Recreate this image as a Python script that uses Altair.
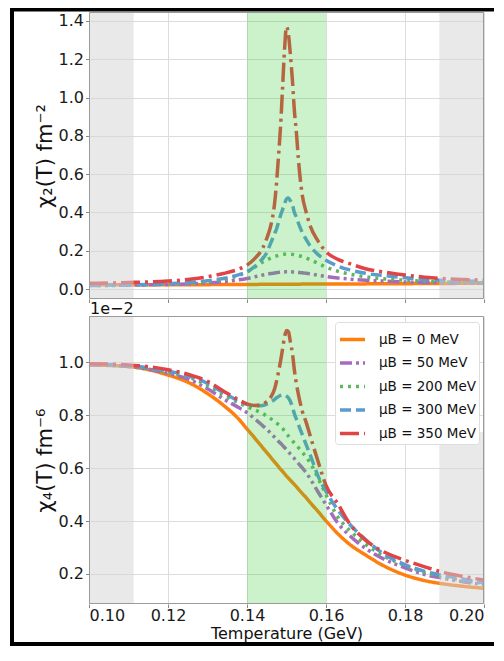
import altair as alt
import pandas as pd

# ---------------- data ----------------
T = [0.100, 0.110, 0.120, 0.125, 0.130, 0.134, 0.138, 0.140, 0.142, 0.144,
     0.145, 0.146, 0.147, 0.1475, 0.148, 0.1485, 0.149, 0.1495, 0.150, 0.1505,
     0.151, 0.1515, 0.152, 0.1525, 0.153, 0.154, 0.155, 0.156, 0.158, 0.160,
     0.163, 0.166, 0.170, 0.175, 0.180, 0.185, 0.190, 0.195, 0.200]

labels = ["μB = 0 MeV", "μB = 50 MeV", "μB = 200 MeV", "μB = 300 MeV", "μB = 350 MeV"]

# chi_2 (fm^-2)
chi2_0 = [0.022, 0.022, 0.023, 0.023, 0.023, 0.024, 0.024, 0.024, 0.024, 0.025,
          0.025, 0.025, 0.025, 0.025, 0.025, 0.025, 0.025, 0.025, 0.025, 0.025,
          0.025, 0.025, 0.025, 0.025, 0.025, 0.026, 0.026, 0.026, 0.026, 0.026,
          0.026, 0.027, 0.027, 0.028, 0.028, 0.029, 0.029, 0.030, 0.030]
chi2_50 = [0.018, 0.020, 0.024, 0.027, 0.032, 0.038, 0.048, 0.055, 0.064, 0.073,
           0.077, 0.081, 0.084, 0.0855, 0.087, 0.088, 0.089, 0.0895, 0.090, 0.090,
           0.090, 0.0895, 0.089, 0.088, 0.087, 0.085, 0.082, 0.079, 0.072, 0.066,
           0.058, 0.052, 0.046, 0.041, 0.037, 0.034, 0.032, 0.031, 0.030]
chi2_200 = [0.018, 0.021, 0.026, 0.030, 0.038, 0.050, 0.072, 0.090, 0.115, 0.142,
            0.153, 0.162, 0.170, 0.173, 0.176, 0.179, 0.181, 0.182, 0.183, 0.183,
            0.182, 0.181, 0.179, 0.177, 0.175, 0.169, 0.162, 0.153, 0.134, 0.115,
            0.093, 0.078, 0.064, 0.053, 0.046, 0.041, 0.037, 0.035, 0.033]
chi2_300 = [0.020, 0.022, 0.028, 0.033, 0.043, 0.055, 0.075, 0.090, 0.118, 0.160,
            0.190, 0.240, 0.290, 0.315, 0.350, 0.385, 0.415, 0.445, 0.470, 0.475,
            0.460, 0.440, 0.400, 0.375, 0.345, 0.295, 0.258, 0.225, 0.180, 0.150,
            0.120, 0.100, 0.082, 0.070, 0.059, 0.050, 0.045, 0.042, 0.040]
chi2_350 = [0.030, 0.034, 0.042, 0.050, 0.064, 0.081, 0.105, 0.125, 0.160, 0.215,
            0.265, 0.330, 0.450, 0.560, 0.700, 0.850, 1.050, 1.250, 1.370, 1.330,
            1.220, 1.090, 0.930, 0.820, 0.680, 0.490, 0.400, 0.330, 0.250, 0.195,
            0.155, 0.133, 0.106, 0.088, 0.073, 0.062, 0.054, 0.050, 0.047]

# chi_4 (in units of 1e-2 fm^-6)
chi4_0 = [0.990, 0.984, 0.952, 0.925, 0.882, 0.838, 0.784, 0.748, 0.713, 0.677,
          0.659, 0.641, 0.623, 0.614, 0.605, 0.596, 0.588, 0.579, 0.570, 0.562,
          0.554, 0.546, 0.538, 0.530, 0.521, 0.504, 0.488, 0.470, 0.436, 0.401,
          0.352, 0.312, 0.272, 0.228, 0.196, 0.175, 0.162, 0.153, 0.146]
chi4_50 = [0.991, 0.984, 0.958, 0.937, 0.900, 0.862, 0.828, 0.810, 0.786, 0.760,
           0.747, 0.732, 0.717, 0.709, 0.701, 0.694, 0.686, 0.678, 0.670, 0.661,
           0.653, 0.644, 0.636, 0.627, 0.618, 0.601, 0.583, 0.560, 0.510, 0.462,
           0.392, 0.345, 0.297, 0.254, 0.223, 0.198, 0.183, 0.170, 0.160]
chi4_200 = [0.992, 0.985, 0.962, 0.945, 0.912, 0.877, 0.846, 0.832, 0.820, 0.806,
            0.797, 0.787, 0.776, 0.770, 0.764, 0.757, 0.750, 0.740, 0.730, 0.721,
            0.712, 0.703, 0.695, 0.687, 0.678, 0.660, 0.642, 0.620, 0.562, 0.500,
            0.415, 0.365, 0.312, 0.265, 0.232, 0.205, 0.188, 0.175, 0.165]
chi4_300 = [0.993, 0.987, 0.967, 0.950, 0.920, 0.885, 0.853, 0.841, 0.835, 0.837,
            0.842, 0.850, 0.860, 0.866, 0.871, 0.875, 0.877, 0.876, 0.872, 0.865,
            0.852, 0.830, 0.805, 0.785, 0.765, 0.727, 0.688, 0.650, 0.570, 0.512,
            0.442, 0.388, 0.330, 0.272, 0.235, 0.210, 0.194, 0.180, 0.167]
chi4_350 = [0.995, 0.990, 0.972, 0.955, 0.928, 0.892, 0.857, 0.843, 0.837, 0.842,
            0.852, 0.868, 0.900, 0.930, 0.965, 1.005, 1.050, 1.095, 1.120, 1.115,
            1.075, 1.035, 0.970, 0.920, 0.880, 0.815, 0.772, 0.722, 0.625, 0.535,
            0.465, 0.390, 0.328, 0.281, 0.252, 0.227, 0.205, 0.190, 0.177]

chi2_series = [chi2_0, chi2_50, chi2_200, chi2_300, chi2_350]
chi4_series = [chi4_0, chi4_50, chi4_200, chi4_300, chi4_350]

colors = ["#ff7f0e", "#a66bbe", "#5cb85c", "#5b9bd0", "#e04444"]
dashes = [[1, 0], [12, 4, 3, 4, 3, 4], [3, 5], [11, 5], [19, 5, 3, 5]]

gray_lo = [0.100, 0.1887]
gray_hi = [0.1113, 0.200]
green_lo = [0.140]
green_hi = [0.160]
gray_top_bottom_panel = [0.737]   # right grey band in lower panel stops here

x_ticks = [0.10, 0.12, 0.14, 0.16, 0.18, 0.20]
y1_ticks = [0.0, 0.2, 0.4, 0.6, 0.8, 1.0, 1.2, 1.4]
y2_ticks = [0.2, 0.4, 0.6, 0.8, 1.0]

rows = []
for lab, s2, s4 in zip(labels, chi2_series, chi4_series):
    for t, a, b in zip(T, s2, s4):
        rows.append({"T": t, "chi2": a, "chi4": b, "series": lab})
df = pd.DataFrame(rows)

gray_df = pd.DataFrame({"lo": gray_lo, "hi": gray_hi})
green_df = pd.DataFrame({"lo": green_lo, "hi": green_hi})
gray_b_df = pd.DataFrame({"lo": gray_lo[:1], "hi": gray_hi[:1]})
gray_b2_df = pd.DataFrame({"lo": gray_lo[1:], "hi": gray_hi[1:], "top": gray_top_bottom_panel})

# ---------------- layout ----------------
W, H1, H2 = 395, 287, 288
xsc = alt.Scale(domain=[0.10, 0.20], nice=False, zero=False)
y1sc = alt.Scale(domain=[-0.052, 1.447], nice=False, zero=False)
y2sc = alt.Scale(domain=[0.0866, 1.175], nice=False, zero=False)
colsc = alt.Scale(domain=labels, range=colors)
dashsc = alt.Scale(domain=labels, range=dashes)

x_axis_top = alt.Axis(values=x_ticks, labels=False, title=None, grid=True)
x_axis_bot = alt.Axis(values=x_ticks, format=".2f", title="Temperature (GeV)", grid=True)
y1_axis = alt.Axis(values=y1_ticks, format=".1f", title="χ₂(T) fm⁻²", grid=True)
y2_axis = alt.Axis(values=y2_ticks, format=".1f", title="χ₄(T) fm⁻⁶", grid=True)

legend = alt.Legend(
    title=None, orient="none", legendX=246, legendY=6,
    symbolType="stroke", symbolSize=625, symbolStrokeWidth=3.5,
    labelFontSize=13.5, labelFont="DejaVu Sans", labelColor="#111111",
    rowPadding=1.5, labelOffset=12, padding=3,
    fillColor="white", strokeColor="#dddddd", cornerRadius=3,
)


def line_layers(field, ysc, xaxis, yaxis, leg):
    out = []
    for lab in labels:
        out.append(
            alt.Chart(df).transform_filter(alt.datum.series == lab)
            .mark_line(strokeWidth=3.5, interpolate="monotone", clip=True)
            .encode(
                x=alt.X("T:Q", scale=xsc, axis=xaxis),
                y=alt.Y(f"{field}:Q", scale=ysc, axis=yaxis),
                color=alt.Color("series:N", scale=colsc, legend=leg),
                strokeDash=alt.StrokeDash("series:N", scale=dashsc, legend=leg),
            )
        )
    return out


def band(data, fill, opacity, xaxis, height):
    return alt.Chart(data).mark_rect(fill=fill, opacity=opacity).encode(
        x=alt.X("lo:Q", scale=xsc, axis=xaxis), x2="hi:Q",
        y=alt.value(0), y2=alt.value(height),
    )


one = pd.DataFrame({"k": [0]})


def panel_box(height):
    return alt.Chart(one).mark_rect(filled=False, stroke="#9a9a9a", strokeWidth=1, clip=False).encode(
        x=alt.value(0.5), x2=alt.value(W - 0.5), y=alt.value(0.5), y2=alt.value(height - 0.5))


def frame_piece(x0, x1, y0, y1):
    # solid black strip of the outer picture frame (decoration, not data)
    return alt.Chart(one).mark_rect(fill="black", strokeWidth=0, clip=False).encode(
        x=alt.value(x0), x2=alt.value(x1), y=alt.value(y0), y2=alt.value(y1))


frame_top = frame_piece(-79, 405, -4, -0.5)
frame_left = frame_piece(-79, -75, -4, 634)
frame_bottom = frame_piece(-79, 405, 630, 634)

top = alt.layer(
    *line_layers("chi2", y1sc, x_axis_top, y1_axis, None),
    band(gray_df, "#d3d3d3", 0.5, x_axis_top, H1),
    band(green_df, "#32cd32", 0.25, x_axis_top, H1),
    panel_box(H1),
    frame_top, frame_left, frame_bottom,
).properties(width=W, height=H1)

offset_text = alt.Chart(pd.DataFrame({"t": ["1e−2"]})).mark_text(
    align="left", baseline="alphabetic", fontSize=16, font="DejaVu Sans", color="#111111", clip=False
).encode(text="t:N", x=alt.value(1), y=alt.value(-2))

gray_b2 = alt.Chart(gray_b2_df).mark_rect(fill="#d3d3d3", opacity=0.5).encode(
    x=alt.X("lo:Q", scale=xsc, axis=x_axis_bot), x2="hi:Q",
    y=alt.Y("top:Q", scale=y2sc, axis=y2_axis), y2=alt.value(H2),
)

bottom = alt.layer(
    *line_layers("chi4", y2sc, x_axis_bot, y2_axis, legend),
    band(gray_b_df, "#d3d3d3", 0.5, x_axis_bot, H2),
    gray_b2,
    band(green_df, "#32cd32", 0.25, x_axis_bot, H2),
    panel_box(H2),
    offset_text,
).properties(width=W, height=H2)

chart = alt.vconcat(top, bottom, spacing=17, bounds="flush").resolve_scale(
    color="independent", strokeDash="independent"
).properties(
    padding={"left": 2, "top": 0, "right": 0, "bottom": 0},
    background="white",
).configure_view(
    stroke="transparent", strokeWidth=0
).configure_axis(
    domain=False,
    labelFont="DejaVu Sans", labelFontSize=16, labelColor="#1a1a1a",
    titleFont="DejaVu Sans", titleFontWeight="normal", titleColor="#111111",
    tickColor="#888888", tickSize=3.5, tickWidth=1,
    gridColor="#dcdcdc", gridWidth=1,
).configure_axisX(
    labelPadding=0, titleFontSize=16, titlePadding=2,
).configure_axisY(
    labelPadding=2, titleFontSize=21, titlePadding=3,
)

chart.save("out.html", embed_options={"renderer": "svg", "actions": False})
